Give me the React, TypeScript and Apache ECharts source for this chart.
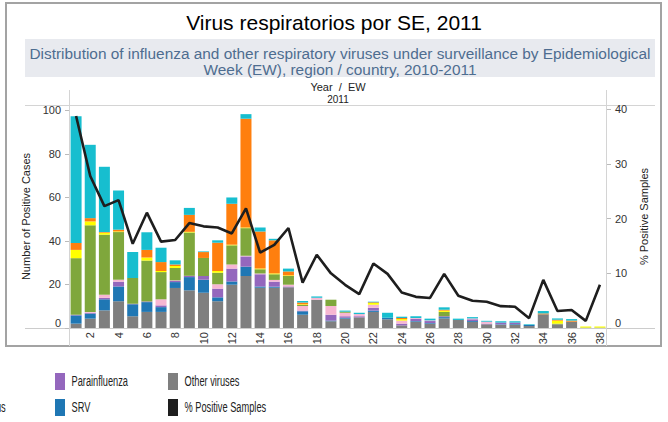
import React, { useEffect, useRef } from "react";
import * as echarts from "echarts";

const weeks = ["1","2","3","4","5","6","7","8","9","10","11","12","13","14","15","16","17","18","19","20","21","22","23","24","25","26","27","28","29","30","31","32","33","34","35","36","37","38"];

const otherViruses = [2.0,4.3,8.1,12.3,5.4,7.4,7.4,18.4,17.3,16.2,12.3,19.9,23.9,18.5,18.5,18.7,6.1,13.0,3.1,4.3,4.9,7.4,4.0,1.2,2.9,2.0,4.4,3.7,2.8,1.7,1.5,1.5,0.9,6.3,1.7,2.9,0,0];
const srv = [3.8,2.3,5.1,6.8,5.5,4.5,2.2,2.7,6.1,6.0,1.8,1.5,4.3,0.6,0.5,0,1.6,0,0.3,0.4,0,0.6,0.7,0,0.3,0.3,0.6,0,0.4,0,0.2,0.3,0.5,0,0,0,0,0];
const parainfluenza = [0.3,0.4,0.7,2.2,0.3,0.3,0.8,0.6,0.6,1.7,4.0,5.9,4.7,5.6,2.3,0.4,0.3,0,2.7,0.7,0.5,1.3,0,0.8,1.1,0.9,0.4,0,0.8,0.3,0.8,0.7,0,0,0,0,0,0];
const adenovirus = [0,0.3,1.4,0.9,0,0,2.8,0.2,0,0,2.0,1.9,0.3,0.3,0.8,0.8,2.1,0.9,4.0,1.6,1.0,1.4,0,1.4,0.3,0.3,0,0,0.4,0.9,0,0,0,0,0,0,0,0];
const fluAH1N1 = [26,39.9,27.6,21.9,11.8,18.8,12.5,5.7,19.9,8.3,5.3,8.8,12.7,2.0,2.6,4.0,0.5,0,2.9,0.5,0,0,0,0,0,0,2.0,0,0,0,0,0,0,0,0.3,0,0.2,0.2];
const fluANotSubtyped = [3.8,1.8,0.9,0.3,0,1.4,0.5,0.9,0.3,0,0.8,0.3,0.3,0.3,0.4,0.3,0.3,0,0,0,0,0.8,0,0.7,0,0,0.6,0,0,0,0,0,0,0,1.4,0,0.5,0.5];
const fluB = [3.2,1.5,0.3,0.8,0,3.5,4.1,0.7,7.8,2.7,13.0,18.8,50.0,17.1,15.2,1.8,0.8,0,0,0,0,0.3,0,0.5,0,0,0.4,0,0,0,0,0,0,0.4,0.4,0.5,0,0];
const fluAH3N2 = [58.2,33.7,30.0,18.0,11.9,8.1,6.6,1.9,3.2,0.3,1.1,2.9,2.1,1.8,0.7,1.3,0.7,0.6,0,0.5,0.6,0.3,2.3,0.6,0.8,0.8,1.1,0.6,0.6,0.4,0.6,0.6,0.3,1.1,0.6,0.7,0,0];
const pctPositive = [38.8,27.8,22.3,23.4,15.4,21.1,15.8,16.1,19.2,18.6,18.4,17.3,21.9,13.8,15.2,18.3,8.3,13.4,10.0,7.9,6.2,11.8,9.9,6.5,5.7,5.5,9.9,5.9,5.0,4.8,4.0,3.9,1.8,8.8,3.1,3.3,1.3,7.9];

const leftTicks = [0, 20, 40, 60, 80, 100];
const rightTicks = [0, 10, 20, 30, 40];

const FONT = "Liberation Sans, Arial, sans-serif";

const barSeries = [
  { name: "Other viruses", data: otherViruses, color: "#7f7f7f" },
  { name: "SRV", data: srv, color: "#1f77b4" },
  { name: "Parainfluenza", data: parainfluenza, color: "#9467bd" },
  { name: "Adenovirus", data: adenovirus, color: "#f7b6d2" },
  { name: "Influenza A(H1N1)pdm09", data: fluAH1N1, color: "#7fa73c" },
  { name: "Influenza A no subtipificado", data: fluANotSubtyped, color: "#ffff00" },
  { name: "Influenza B", data: fluB, color: "#ff7f0e" },
  { name: "Influenza A(H3N2)", data: fluAH3N2, color: "#17becf" },
];
const lineName = "% Positive Samples";
const lineColor = "#1e1e1e";

// legend entries visible in the reference: [name, column x, row y]
const legendEntries: [string, number, number][] = [
  ["Adenovirus", -57, 399],
  ["Parainfluenza", 55, 373],
  ["SRV", 55, 399],
  ["Other viruses", 168, 373],
  [lineName, 168, 399],
];

function colorOf(name: string) {
  if (name === lineName) return lineColor;
  const s = barSeries.find((b) => b.name === name);
  return s ? s.color : "#000";
}

export default function App() {
  const ref = useRef<HTMLDivElement>(null);
  useEffect(() => {
    if (!ref.current) return;
    const chart = echarts.init(ref.current, null, { renderer: "svg" });
    const legendGraphics = legendEntries.map(([name, x, y]) => ({
      type: "group",
      x,
      y,
      children: [
        { type: "rect", shape: { x: 0, y: 0, width: 10, height: 17 }, style: { fill: colorOf(name) } },
        {
          type: "text",
          x: 16.5,
          y: 8.5,
          scaleX: 0.66,
          style: {
            text: name,
            fontFamily: FONT,
            fontSize: 14,
            fill: "#222",
            verticalAlign: "middle",
            align: "left",
          },
        },
      ],
    }));
    chart.setOption({
      animation: false,
      backgroundColor: "#ffffff",
      textStyle: { fontFamily: FONT },
      title: [
        {
          text: "Virus respiratorios por SE, 2011",
          left: "center",
          top: 7,
          textStyle: { fontFamily: FONT, fontSize: 21, fontWeight: "normal", color: "#000" },
        },
        {
          text: "Distribution of influenza and other respiratory viruses under surveillance by Epidemiological\nWeek (EW), region / country, 2010-2011",
          left: 335,
          textAlign: "center",
          top: 40,
          textStyle: { fontFamily: FONT, fontSize: 15.4, lineHeight: 16.5, fontWeight: "normal", color: "#4e6d90" },
        },
        {
          text: "Year  /  EW",
          left: 333,
          textAlign: "center",
          top: 76,
          textStyle: { fontFamily: FONT, fontSize: 11, fontWeight: "normal", color: "#222" },
        },
        {
          text: "2011",
          left: 333,
          textAlign: "center",
          top: 89,
          textStyle: { fontFamily: FONT, fontSize: 10, fontWeight: "normal", color: "#222" },
        },
      ],
      graphic: [
        { type: "rect", z: -10, shape: { x: 25, y: 39, width: 630, height: 38 }, style: { fill: "#e8eaef" } },
        { type: "rect", z: -10, shape: { x: 6, y: 3, width: 655, height: 343 }, style: { fill: "none", stroke: "#a3a3a3", lineWidth: 2 } },
        { type: "line", z: -10, shape: { x1: 25, y1: 105.5, x2: 655, y2: 105.5 }, style: { stroke: "#d4d4d4", lineWidth: 1 } },
        { type: "line", z: -10, shape: { x1: 25, y1: 328.5, x2: 655, y2: 328.5 }, style: { stroke: "#cccccc", lineWidth: 1 } },
        { type: "line", z: -10, shape: { x1: 69.5, y1: 90, x2: 69.5, y2: 346 }, style: { stroke: "#d4d4d4", lineWidth: 1 } },
        { type: "line", z: -10, shape: { x1: 606.5, y1: 90, x2: 606.5, y2: 346 }, style: { stroke: "#d4d4d4", lineWidth: 1 } },
        ...legendGraphics,
      ],
      grid: { left: 69, right: 61, top: 105, bottom: 94, containLabel: false },
      xAxis: {
        type: "category",
        data: weeks,
        boundaryGap: true,
        axisLine: { show: false },
        axisTick: { show: false },
        splitLine: { show: false },
        axisLabel: {
          rotate: 90,
          margin: 4,
          fontSize: 11,
          color: "#333",
          fontFamily: FONT,
          interval: (index: number) => index % 2 === 1,
        },
      },
      yAxis: [
        {
          type: "value",
          min: 0,
          max: 102.5,
          name: "Number of Positive Cases",
          nameLocation: "middle",
          nameGap: 32,
          nameRotate: 90,
          nameTextStyle: { fontFamily: FONT, fontSize: 11, color: "#222" },
          axisLine: { show: false },
          splitLine: { show: false },
          axisTick: { show: true, length: 4, customValues: leftTicks, lineStyle: { color: "#bbb" } },
          axisLabel: {
            customValues: leftTicks,
            margin: 8,
            fontSize: 11,
            color: "#333",
            fontFamily: FONT,
            formatter: (v: number) => (v === 0 ? "{z|0}" : String(v)),
            rich: { z: { fontSize: 11, color: "#333", fontFamily: FONT, padding: [0, 0, 10, 0] } },
          },
        },
        {
          type: "value",
          min: 0,
          max: 40.8,
          position: "right",
          name: lineName,
          nameLocation: "middle",
          nameGap: 29,
          nameRotate: 90,
          nameTextStyle: { fontFamily: FONT, fontSize: 11, color: "#222" },
          axisLine: { show: false },
          splitLine: { show: false },
          axisTick: { show: true, length: 4, customValues: rightTicks, lineStyle: { color: "#bbb" } },
          axisLabel: {
            customValues: rightTicks,
            margin: 8,
            fontSize: 11,
            color: "#333",
            fontFamily: FONT,
            formatter: (v: number) => (v === 0 ? "{z|0}" : String(v)),
            rich: { z: { fontSize: 11, color: "#333", fontFamily: FONT, padding: [0, 0, 10, 0] } },
          },
        },
      ],
      series: [
        ...barSeries.map((s) => ({
          name: s.name,
          type: "bar",
          stack: "cases",
          barWidth: 11,
          data: s.data,
          itemStyle: { color: s.color },
          emphasis: { disabled: true },
        })),
        {
          name: lineName,
          type: "line",
          yAxisIndex: 1,
          data: pctPositive,
          symbol: "none",
          z: 5,
          lineStyle: { color: lineColor, width: 2.6 },
          itemStyle: { color: lineColor },
          emphasis: { disabled: true },
        },
      ],
    });
    return () => chart.dispose();
  }, []);
  return (
    <div
      ref={ref}
      style={{ position: "absolute", left: 0, top: 0, width: 668, height: 422, background: "#fff" }}
    />
  );
}
